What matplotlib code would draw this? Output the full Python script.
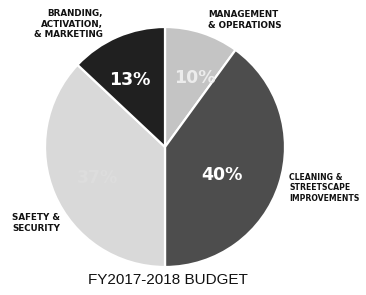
import matplotlib.pyplot as plt

# budget shares, clockwise from the top
categories = ["MANAGEMENT\n& OPERATIONS", "CLEANING &\nSTREETSCAPE\nIMPROVEMENTS",
              "SAFETY &\nSECURITY", "BRANDING,\nACTIVATION,\n& MARKETING"]
shares = [10, 40, 37, 13]
colors = ["#c4c4c4", "#4d4d4d", "#d9d9d9", "#202020"]
pct_colors = ["#ececec", "white", "#dddddd", "white"]
title = "FY2017-2018 BUDGET"

W, H = 366, 295
fig = plt.figure(figsize=(W / 100, H / 100), dpi=100)
ax = fig.add_axes([0, 0, 1, 1])

cx, cy, R = 165, 295 - 147, 120
wedges, _ = ax.pie(shares, colors=colors, startangle=90, counterclock=False,
                   center=(cx, cy), radius=R, frame=True,
                   wedgeprops=dict(edgecolor="white", linewidth=1.6))
ax.set_xlim(0, W)
ax.set_ylim(0, H)
ax.set_aspect("equal")
ax.axis("off")

# percent labels inside the slices
pct_pos = [(195, 78), (222, 175), (98, 178), (130, 80)]
for s, (x, y), c in zip(shares, pct_pos, pct_colors):
    ax.text(x, H - y, f"{s}%", color=c, fontsize=12.5, fontweight="bold",
            ha="center", va="center", family="DejaVu Sans")

# category labels outside
lab_pos = [(208, 20, "left", 6.3), (289, 188, "left", 5.6),
           (12, 223, "left", 6.3), (103, 24, "right", 6.3)]
for lab, (x, y, ha, fs) in zip(categories, lab_pos):
    ax.text(x, H - y, lab, fontsize=fs, fontweight="bold", ha=ha, va="center",
            multialignment=ha, linespacing=1.15, color="#111111",
            family="DejaVu Sans")

ax.text(168, H - 280, title, fontsize=11, ha="center", va="center",
        family="Liberation Sans", color="#111111")

fig.savefig("out.png", dpi=100)
